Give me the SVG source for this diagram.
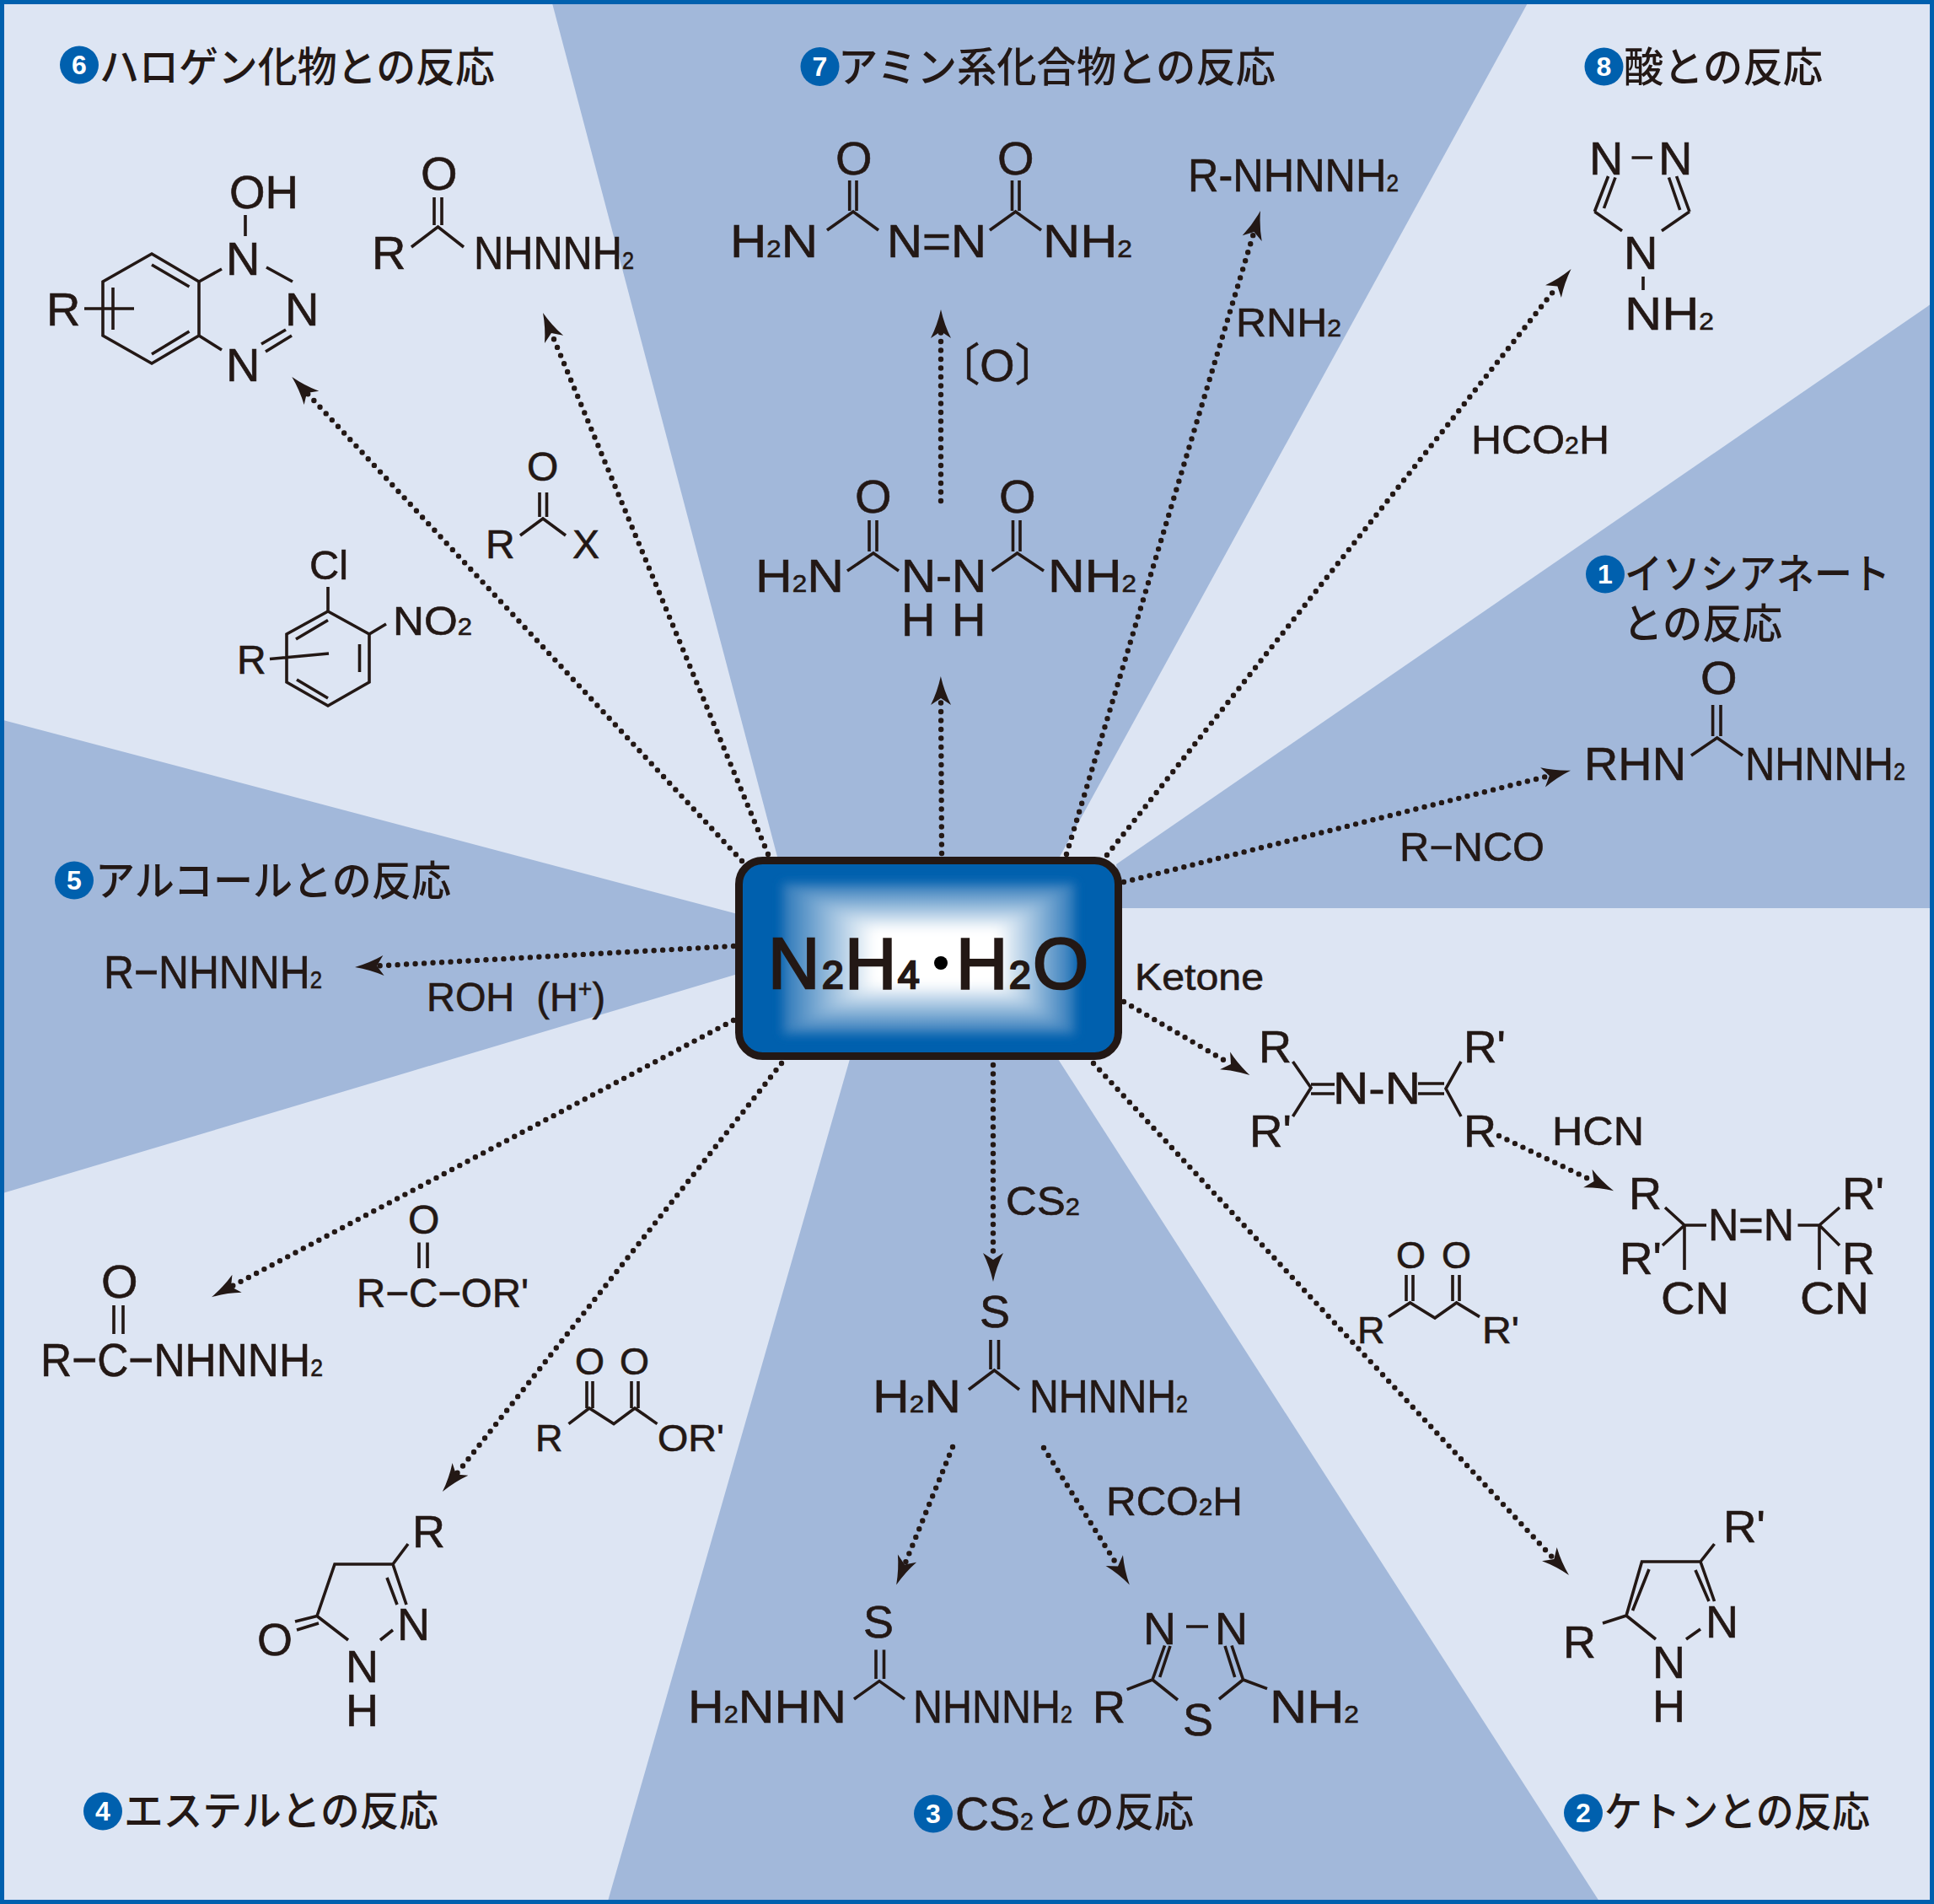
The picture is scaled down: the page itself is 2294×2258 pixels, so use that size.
<svg xmlns="http://www.w3.org/2000/svg" width="2294" height="2258" viewBox="0 0 2294 2258">
<style>
text{font-family:"Liberation Sans","Noto Sans CJK JP",sans-serif;fill:#231815;stroke:#231815;stroke-width:.6}
.x{font-size:56px}.l{font-size:54px}.m{font-size:48px}.k{font-size:45px}
.b{font-size:29px}
.h{font-family:"Noto Sans CJK JP","Liberation Sans",sans-serif;font-size:49px;font-weight:500;stroke-width:0}
.d{font-family:"Liberation Sans",sans-serif;font-size:32px;font-weight:700;fill:#fff;text-anchor:middle;stroke:none}
.c{fill:#0060AE}
.bond{fill:none;stroke:#231815;stroke-width:3.6}
.arr{fill:none;stroke:#231815;stroke-width:6.4;stroke-linecap:round;stroke-dasharray:0 10.5;marker-end:url(#ah)}
</style>
<defs>
<marker id="ah" markerUnits="userSpaceOnUse" markerWidth="40" markerHeight="30" refX="8" refY="15" orient="auto" overflow="visible"><path d="M34,15 Q16,11 0,3 L8,15 L0,27 Q16,19 34,15Z" fill="#231815"/></marker>
<linearGradient id="gt" gradientUnits="userSpaceOnUse" x1="0" y1="1047" x2="0" y2="1103"><stop offset="0" stop-color="#2a76b8"/><stop offset="1" stop-color="#fff"/></linearGradient>
<linearGradient id="gb" gradientUnits="userSpaceOnUse" x1="0" y1="1227" x2="0" y2="1167"><stop offset="0" stop-color="#2a76b8"/><stop offset="1" stop-color="#fff"/></linearGradient>
<linearGradient id="gl" gradientUnits="userSpaceOnUse" x1="928" y1="0" x2="1037" y2="0"><stop offset="0" stop-color="#2a76b8"/><stop offset="1" stop-color="#fff"/></linearGradient>
<linearGradient id="gr" gradientUnits="userSpaceOnUse" x1="1275" y1="0" x2="1183" y2="0"><stop offset="0" stop-color="#2a76b8"/><stop offset="1" stop-color="#fff"/></linearGradient>
<filter id="soft" x="880" y="1000" width="450" height="280" filterUnits="userSpaceOnUse"><feGaussianBlur stdDeviation="6"/></filter>
</defs>
<g id="background">
<rect width="2294" height="2258" fill="#DDE5F3"/>
<g fill="#A2B8DA">
<polygon points="654,0 1814,0 1257,1016 922,1016"/>
<polygon points="2294,358 1324,1025 1330,1077 2294,1077"/>
<polygon points="0,853 875,1084 875,1155 0,1416"/>
<polygon points="1008,1256 1255,1256 1899,2258 720,2258"/>
</g>
<rect x="2.5" y="2.5" width="2289" height="2253" fill="none" stroke="#0060AE" stroke-width="5"/>
</g>
<g id="connectors">
<path class="arr" d="M880,1021L364,466"/>
<path class="arr" d="M911,1013L654,395"/>
<path class="arr" d="M1117,1012L1116,828"/>
<path class="arr" d="M1116,594V393"/>
<path class="arr" d="M1265,1013L1487.5,275"/>
<path class="arr" d="M1313,1014L1847.4,339.4"/>
<path class="arr" d="M1333,1046L1837.8,920"/>
<path class="arr" d="M1333,1188L1460,1262"/>
<path class="arr" d="M1778,1347L1890.6,1401"/>
<path class="arr" d="M1297,1261L1843.3,1849"/>
<path class="arr" d="M1178,1263L1178,1494"/>
<path class="arr" d="M1130,1716L1073,1855.5"/>
<path class="arr" d="M1238,1717L1326,1857.5"/>
<path class="arr" d="M870,1122L447,1145.5"/>
<path class="arr" d="M870,1210L274,1526"/>
<path class="arr" d="M927,1261L541,1748.6"/>
</g>
<g id="center-reagent">
<rect x="876.5" y="1020.5" width="450" height="232" rx="28" fill="#0060AE"/>
<g filter="url(#soft)">
<rect x="1037" y="1103" width="146" height="64" fill="#fff"/>
<polygon points="928,1047 1275,1047 1183,1103 1037,1103" fill="url(#gt)"/>
<polygon points="928,1227 1275,1227 1183,1167 1037,1167" fill="url(#gb)"/>
<polygon points="928,1047 1037,1103 1037,1167 928,1227" fill="url(#gl)"/>
<polygon points="1275,1047 1183,1103 1183,1167 1275,1227" fill="url(#gr)"/>
</g>
<rect x="876.5" y="1020.5" width="450" height="232" rx="28" fill="none" stroke="#231815" stroke-width="9"/>
<text y="1172" font-size="85" style="stroke-width:2.5"><tspan x="911">N</tspan><tspan x="975" font-size="46">2</tspan><tspan x="1002">H</tspan><tspan x="1065" font-size="46">4</tspan><tspan x="1134">H</tspan><tspan x="1197" font-size="46">2</tspan><tspan x="1225">O</tspan></text>
<circle cx="1116" cy="1142" r="8"/>
</g>
<g id="heading-6"><ellipse class="c" cx="94" cy="77" rx="23" ry="22.5"/><text class="d" x="94" y="88">6</text><text class="h" x="118" y="97" textLength="469" lengthAdjust="spacingAndGlyphs">ハロゲン化物との反応</text></g>
<g id="heading-7"><ellipse class="c" cx="972.5" cy="79" rx="23" ry="23"/><text class="d" x="972.5" y="90">7</text><text class="h" x="994" y="97" textLength="519" lengthAdjust="spacingAndGlyphs">アミン系化合物との反応</text></g>
<g id="heading-8"><ellipse class="c" cx="1902.5" cy="79" rx="23" ry="22.5"/><text class="d" x="1902.5" y="90">8</text><text class="h" x="1926" y="97" textLength="236" lengthAdjust="spacingAndGlyphs">酸との反応</text></g>
<g id="heading-1"><ellipse class="c" cx="1904" cy="681" rx="23" ry="22.5"/><text class="d" x="1904" y="692">1</text><text class="h" x="1927" y="698" textLength="315" lengthAdjust="spacingAndGlyphs">イソシアネート</text><text class="h" x="1925" y="757" textLength="189" lengthAdjust="spacingAndGlyphs">との反応</text></g>
<g id="heading-5"><ellipse class="c" cx="88" cy="1044" rx="23" ry="22.5"/><text class="d" x="88" y="1055">5</text><text class="h" x="113" y="1062" textLength="422" lengthAdjust="spacingAndGlyphs">アルコールとの反応</text></g>
<g id="heading-4"><ellipse class="c" cx="122" cy="2148" rx="23" ry="22.5"/><text class="d" x="122" y="2159">4</text><text class="h" x="147" y="2165" textLength="373" lengthAdjust="spacingAndGlyphs">エステルとの反応</text></g>
<g id="heading-3"><ellipse class="c" cx="1107" cy="2151" rx="23" ry="22.5"/><text class="d" x="1107" y="2162">3</text><text x="1133" y="2170" font-size="56" textLength="93" lengthAdjust="spacingAndGlyphs">CS<tspan class="b">2</tspan></text><text class="h" x="1228" y="2166" textLength="188" lengthAdjust="spacingAndGlyphs">との反応</text></g>
<g id="heading-2"><ellipse class="c" cx="1878" cy="2150" rx="23" ry="22.5"/><text class="d" x="1878" y="2161">2</text><text class="h" x="1903" y="2166" textLength="315" lengthAdjust="spacingAndGlyphs">ケトンとの反応</text></g>

<g id="benzotriazine">
<path class="bond" d="M180,301L236,334V398L180,431L122,398V334ZM180,314L224.5,340M224.5,393L180,420M134,341V391M100,366H159M236,334L263,319M236,398L263,415M316,317L347,334M310,408L339,391M315,417L346,398M291,255V280"/>
<text class="x" x="272" y="247" textLength="82" lengthAdjust="spacingAndGlyphs">OH</text>
<text class="x" x="55" y="386">R</text>
<text class="x" x="268" y="326">N</text><text class="x" x="338" y="386">N</text><text class="x" x="268" y="452">N</text>
</g>
<g id="acyl-hydrazide-a">
<path class="bond" d="M515,234V267M524,234V267M488,293L519.5,269L550,293"/>
<text class="x" x="499" y="225">O</text><text class="x" x="441" y="319">R</text>
<text class="x" x="562" y="319" textLength="190" lengthAdjust="spacingAndGlyphs">NHNNH<tspan class="b">2</tspan></text>
</g>
<g id="acyl-halide">
<path class="bond" d="M640,584V613M648.5,584V613M617,635L644,615L671,635"/>
<text class="m" x="625" y="570">O</text><text class="m" x="576" y="662">R</text><text class="m" x="679" y="662">X</text>
</g>
<g id="chloronitrobenzene">
<path class="bond" d="M389,725L438,752V809L389,837L340,809V752ZM389,696V725M438,752L458,740M351,758L389,735.5M426.5,764V797M352,806L389,828M320,781.5L390,775"/>
<text class="m" x="367" y="687" textLength="46" lengthAdjust="spacingAndGlyphs">Cl</text>
<text class="m" x="466" y="753" textLength="94" lengthAdjust="spacingAndGlyphs">NO<tspan class="b">2</tspan></text>
<text class="m" x="281" y="799">R</text>
</g>
<g id="azodicarbonamide">
<path class="bond" d="M1007.7,214V250M1016,214V250M981,273L1012,251L1042,273M1200.5,214V250M1209,214V250M1174,273L1204.6,251L1235,273"/>
<text class="x" x="991" y="207">O</text><text class="x" x="1183" y="207">O</text>
<text class="x" x="866" y="305" textLength="104" lengthAdjust="spacingAndGlyphs">H<tspan class="b">2</tspan>N</text>
<text class="x" x="1052" y="305" textLength="118" lengthAdjust="spacingAndGlyphs">N=N</text>
<text class="x" x="1237" y="305" textLength="106" lengthAdjust="spacingAndGlyphs">NH<tspan class="b">2</tspan></text>
</g>
<g id="hydrazodicarbonamide">
<path class="bond" d="M1031,617V654M1040,617V654M1005,677L1036,656L1066,677M1201.5,617V654M1210,617V654M1176.5,677L1206.6,656L1238,677"/>
<text class="x" x="1014" y="608">O</text><text class="x" x="1185" y="608">O</text>
<text class="x" x="896" y="702" textLength="105" lengthAdjust="spacingAndGlyphs">H<tspan class="b">2</tspan>N</text>
<text class="x" x="1069" y="702" textLength="101" lengthAdjust="spacingAndGlyphs">N-N</text>
<text class="x" x="1243" y="702" textLength="105" lengthAdjust="spacingAndGlyphs">NH<tspan class="b">2</tspan></text>
<text class="x" x="1069" y="754">H</text><text class="x" x="1129" y="754">H</text>
</g>
<g id="oxidant"><text x="1183" y="452" font-size="53" text-anchor="middle">〔O〕</text></g>
<g id="alkyl-hydrazine-a"><text class="x" x="1409" y="227" textLength="250" lengthAdjust="spacingAndGlyphs">R-NHNNH<tspan class="b">2</tspan></text></g>
<g id="amine-reagent"><text class="m" x="1466" y="399" textLength="125" lengthAdjust="spacingAndGlyphs">RNH<tspan class="b">2</tspan></text></g>
<g id="triazole">
<path class="bond" d="M1891.4,251L1907.6,209M1902.5,247L1916,210.5M2004,251L1988.6,209M1992.7,249L1979.5,210.5M1891.4,251L1924,273.7M2004,251L1971,273.7M1935.5,187H1960M1949,328V344"/>
<text class="x" x="1885" y="207">N</text><text class="x" x="1967" y="207">N</text><text class="x" x="1926" y="319">N</text>
<text class="x" x="1927" y="391" textLength="106" lengthAdjust="spacingAndGlyphs">NH<tspan class="b">2</tspan></text>
</g>
<g id="formic-acid"><text class="m" x="1745" y="538" textLength="164" lengthAdjust="spacingAndGlyphs">HCO<tspan class="b">2</tspan>H</text></g>
<g id="semicarbazide">
<path class="bond" d="M2031.6,836V873M2041,836V873M2006,896L2036.7,875L2067,896"/>
<text class="x" x="2017" y="823">O</text>
<text class="x" x="1879" y="925" textLength="121" lengthAdjust="spacingAndGlyphs">RHN</text>
<text class="x" x="2070" y="925" textLength="190" lengthAdjust="spacingAndGlyphs">NHNNH<tspan class="b">2</tspan></text>
</g>
<g id="isocyanate"><text class="m" x="1660" y="1021" textLength="172" lengthAdjust="spacingAndGlyphs">R−NCO</text></g>
<g id="ketone-label"><text class="k" x="1346" y="1174" textLength="153" lengthAdjust="spacingAndGlyphs">Ketone</text></g>
<g id="ketazine">
<path class="bond" d="M1533.5,1259L1555,1290L1533.5,1324M1555,1286H1583M1555,1297H1583M1682,1285H1713M1682,1297H1713M1733,1259L1715,1291L1733,1324"/>
<text class="l" x="1493" y="1260">R</text><text class="l" x="1736" y="1260" textLength="50" lengthAdjust="spacingAndGlyphs">R'</text>
<text class="l" x="1482" y="1360" textLength="50" lengthAdjust="spacingAndGlyphs">R'</text><text class="l" x="1736" y="1360">R</text>
<text class="l" x="1581" y="1309" textLength="104" lengthAdjust="spacingAndGlyphs">N-N</text>
</g>
<g id="hcn"><text class="m" x="1841" y="1358" textLength="109" lengthAdjust="spacingAndGlyphs">HCN</text></g>
<g id="azonitrile">
<path class="bond" d="M1975,1432L1998,1453H2024M1998,1453V1506M1998,1453L1972,1477M2132.5,1453H2158L2182,1432M2158,1453L2182,1477M2158,1453V1506"/>
<text class="l" x="1932" y="1434">R</text><text class="l" x="2185" y="1434" textLength="50" lengthAdjust="spacingAndGlyphs">R'</text>
<text class="l" x="1921" y="1511" textLength="50" lengthAdjust="spacingAndGlyphs">R'</text><text class="l" x="2185" y="1511">R</text>
<text class="l" x="2026" y="1471" textLength="102" lengthAdjust="spacingAndGlyphs">N=N</text>
<text class="l" x="1970" y="1558" textLength="81" lengthAdjust="spacingAndGlyphs">CN</text><text class="l" x="2135" y="1558" textLength="82" lengthAdjust="spacingAndGlyphs">CN</text>
</g>
<g id="diketone">
<path class="bond" d="M1668,1512V1543M1676,1512V1543M1723,1512V1543M1731,1512V1543M1647,1561.6L1672.6,1545L1702,1563L1727.6,1545L1755,1561.6"/>
<text class="k" x="1656" y="1504">O</text><text class="k" x="1710" y="1504">O</text>
<text class="k" x="1610" y="1593">R</text><text class="k" x="1758" y="1593" textLength="44" lengthAdjust="spacingAndGlyphs">R'</text>
</g>
<g id="pyrazole">
<path class="bond" d="M2017,1852H1947.5L1929,1916L1964,1944M2000,1944L2017,1932M2017,1852L2033.5,1899M2011,1862L2027,1899M2017,1852L2033.5,1831M1929,1916L1901,1925M1936.5,1910L1956,1861"/>
<text class="l" x="2044" y="1829" textLength="50" lengthAdjust="spacingAndGlyphs">R'</text><text class="l" x="1854" y="1966">R</text>
<text class="l" x="2023" y="1942">N</text><text class="l" x="1960" y="1990">N</text><text class="l" x="1960" y="2042">H</text>
</g>
<g id="cs2-label"><text class="m" x="1193" y="1441" textLength="88" lengthAdjust="spacingAndGlyphs">CS<tspan class="b">2</tspan></text></g>
<g id="thiosemicarbazide">
<path class="bond" d="M1175,1589V1624M1184.5,1589V1624M1149,1648L1179.4,1625L1209,1648"/>
<text class="l" x="1162" y="1574">S</text>
<text class="x" x="1035" y="1675" textLength="105" lengthAdjust="spacingAndGlyphs">H<tspan class="b">2</tspan>N</text>
<text class="x" x="1221" y="1675" textLength="188" lengthAdjust="spacingAndGlyphs">NHNNH<tspan class="b">2</tspan></text>
</g>
<g id="rco2h"><text class="m" x="1312" y="1797" textLength="162" lengthAdjust="spacingAndGlyphs">RCO<tspan class="b">2</tspan>H</text></g>
<g id="thiocarbohydrazide">
<path class="bond" d="M1039,1956.4V1991M1048.5,1956.4V1991M1013,2015L1043,1993.6L1073,2015"/>
<text class="l" x="1024" y="1942">S</text>
<text class="x" x="816" y="2043" textLength="188" lengthAdjust="spacingAndGlyphs">H<tspan class="b">2</tspan>NHN</text>
<text class="x" x="1083" y="2043" textLength="189" lengthAdjust="spacingAndGlyphs">NHNNH<tspan class="b">2</tspan></text>
</g>
<g id="thiadiazole">
<path class="bond" d="M1367,1992L1381.5,1951.5M1375.7,1989L1388,1952M1474.5,1992L1461,1951.5M1464.7,1989L1453,1952M1367,1992L1336.7,2003.6M1367,1992L1397,2016M1474.5,1992L1446,2015M1474.5,1992L1503,2002.6M1407,1929H1433"/>
<text class="l" x="1356" y="1950">N</text><text class="l" x="1441" y="1950">N</text>
<text class="l" x="1296" y="2043">R</text><text class="l" x="1403" y="2058">S</text>
<text class="x" x="1506" y="2043" textLength="106" lengthAdjust="spacingAndGlyphs">NH<tspan class="b">2</tspan></text>
</g>
<g id="alkyl-hydrazine-b"><text class="x" x="123" y="1172" textLength="259" lengthAdjust="spacingAndGlyphs">R−NHNNH<tspan class="b">2</tspan></text></g>
<g id="alcohol"><text class="m" x="506" y="1199" textLength="212" lengthAdjust="spacingAndGlyphs" xml:space="preserve">ROH  (H<tspan class="b" dy="-16">+</tspan><tspan dy="16">)</tspan></text></g>
<g id="acyl-hydrazide-b">
<path class="bond" d="M135,1548V1582M146,1548V1582"/>
<text class="x" x="120" y="1539">O</text>
<text class="x" x="48" y="1632" textLength="335" lengthAdjust="spacingAndGlyphs">R−C−NHNNH<tspan class="b">2</tspan></text>
</g>
<g id="ester">
<path class="bond" d="M497,1473.5V1504M507,1473.5V1504"/>
<text class="m" x="484" y="1463">O</text>
<text class="m" x="423" y="1550" textLength="204" lengthAdjust="spacingAndGlyphs">R−C−OR'</text>
</g>
<g id="ketoester">
<path class="bond" d="M696,1638V1670M703,1638V1670M749,1638V1670M757,1638V1670M674.5,1688.6L699,1670L728,1688.6L753,1670L779.5,1688.6"/>
<text class="k" x="682" y="1630">O</text><text class="k" x="735" y="1630">O</text>
<text class="k" x="635" y="1721">R</text><text class="k" x="780" y="1721" textLength="79" lengthAdjust="spacingAndGlyphs">OR'</text>
</g>
<g id="pyrazolone">
<path class="bond" d="M484,1831L466,1855H397L376,1916.5L413,1945M451,1945L466,1933M466,1855L482,1903M459,1871L471,1903M376,1916.5L350,1923M378,1925L352,1933"/>
<text class="l" x="489" y="1835">R</text><text class="l" x="471" y="1945">N</text><text class="l" x="410" y="1995">N</text><text class="l" x="410" y="2047">H</text><text class="l" x="305" y="1963">O</text>
</g>
</svg>
